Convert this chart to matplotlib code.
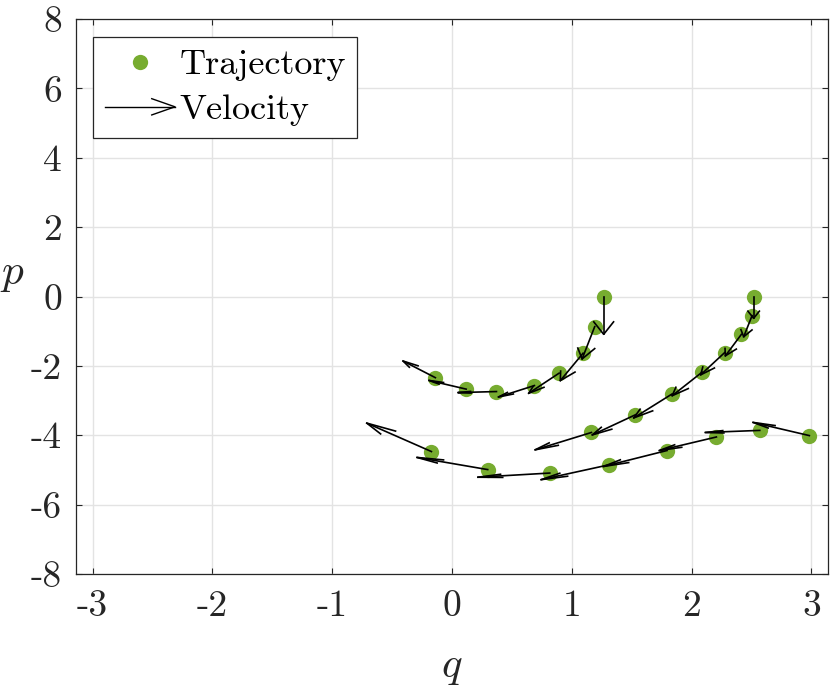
import matplotlib
matplotlib.use("Agg")
import matplotlib.pyplot as plt
import numpy as np
from matplotlib.lines import Line2D
from matplotlib.legend_handler import HandlerBase

plt.rcParams['font.family'] = 'cmr10'
plt.rcParams['mathtext.fontset'] = 'cm'
plt.rcParams['axes.unicode_minus'] = False

# trajectory points (q, p), three runs
q1 = [1.266, 1.191, 1.094, 0.894, 0.688, 0.371, 0.118, -0.139]
p1 = [0.0, -0.87, -1.635, -2.21, -2.567, -2.74, -2.67, -2.34]
u1 = [0.0, -0.105, -0.19, -0.254, -0.30, -0.32, -0.31, -0.27]
v1 = [-1.09, -0.93, -0.79, -0.58, -0.33, -0.03, 0.25, 0.48]

q2 = [2.518, 2.505, 2.416, 2.276, 2.088, 1.837, 1.531, 1.164]
p2 = [0.0, -0.55, -1.09, -1.617, -2.18, -2.81, -3.41, -3.92]
u2 = [0.0, -0.07, -0.134, -0.20, -0.25, -0.32, -0.36, -0.47]
v2 = [-0.63, -0.61, -0.62, -0.64, -0.68, -0.69, -0.58, -0.50]

q3 = [2.983, 2.569, 2.207, 1.795, 1.314, 0.816, 0.298, -0.172]
p3 = [-4.01, -3.86, -4.05, -4.44, -4.85, -5.09, -4.99, -4.47]
u3 = [-0.47, -0.454, -0.476, -0.53, -0.57, -0.60, -0.59, -0.54]
v3 = [0.38, -0.06, -0.39, -0.46, -0.43, -0.12, 0.35, 0.82]

green = '#77AC30'
dark = '#262626'


def quiver_lines(ax, x, y, u, v, alpha=0.33, beta=0.23):
    # matlab style open arrow heads, built in data units
    for xi, yi, ui, vi in zip(x, y, u, v):
        tx, ty = xi + ui, yi + vi
        ax.plot([xi, tx], [yi, ty], color='k', lw=1.2, zorder=4)
        hx = [tx - alpha * (ui + beta * vi), tx, tx - alpha * (ui - beta * vi)]
        hy = [ty - alpha * (vi - beta * ui), ty, ty - alpha * (vi + beta * ui)]
        ax.plot(hx, hy, color='k', lw=1.2, zorder=4)


class HandlerArrow(HandlerBase):
    def create_artists(self, legend, orig_handle, xdescent, ydescent,
                       width, height, fontsize, trans):
        y = height / 2 - ydescent
        x0, x1 = -xdescent, width - xdescent
        shaft = Line2D([x0, x1], [y, y], color='k', lw=1.0, transform=trans)
        hl = 0.33 * (x1 - x0)
        hw = 0.35 * hl
        head = Line2D([x1 - hl, x1, x1 - hl], [y + hw, y, y - hw],
                      color='k', lw=1.0, transform=trans)
        return [shaft, head]


fig = plt.figure(figsize=(8.3, 6.87), dpi=100)
ax = fig.add_axes([0.0912, 0.1645, 0.9068, 0.8078])

for q, p, u, v in [(q1, p1, u1, v1), (q2, p2, u2, v2), (q3, p3, u3, v3)]:
    ax.plot(q, p, 'o', color=green, ms=11, mec='none', zorder=3)
    quiver_lines(ax, q, p, u, v)

ax.set_xlim(-np.pi, np.pi)
ax.set_ylim(-8, 8)
ax.set_xticks(range(-3, 4))
ax.set_xticklabels([str(t) for t in range(-3, 4)])
ax.set_yticks(range(-8, 9, 2))
ax.set_yticklabels([str(t) for t in range(-8, 9, 2)])
ax.grid(True, color='#e3e3e3', lw=1.0)
ax.set_axisbelow(True)
ax.tick_params(direction='in', length=4, width=0.8, colors=dark,
               labelsize=27, top=True, right=True)
ax.tick_params(axis='x', pad=11.5)
ax.tick_params(axis='y', pad=10)
for s in ax.spines.values():
    s.set_color(dark)
    s.set_linewidth(0.9)

ax.set_xlabel('$q$', fontsize=31, color=dark)
ax.xaxis.set_label_coords(0.5, -0.170)
ax.xaxis.label.set_va('center')
ax.set_ylabel('$p$', fontsize=31, color=dark, rotation=0)
ax.yaxis.set_label_coords(-0.084, 0.539)
ax.yaxis.label.set_va('center')

traj = Line2D([], [], marker='o', ls='none', color=green, ms=11, mec='none')
vel = Line2D([], [], color='k')
leg = ax.legend([traj, vel], ['Trajectory', 'Velocity'],
                handler_map={vel: HandlerArrow()},
                loc='upper left', bbox_to_anchor=(0.023, 0.967),
                fontsize=26, handlelength=1.95, handletextpad=0.12,
                borderpad=0.32, labelspacing=0.36, borderaxespad=0,
                fancybox=False, framealpha=1, edgecolor=dark)
leg.get_frame().set_linewidth(0.9)

fig.savefig('out.png', dpi=100)
